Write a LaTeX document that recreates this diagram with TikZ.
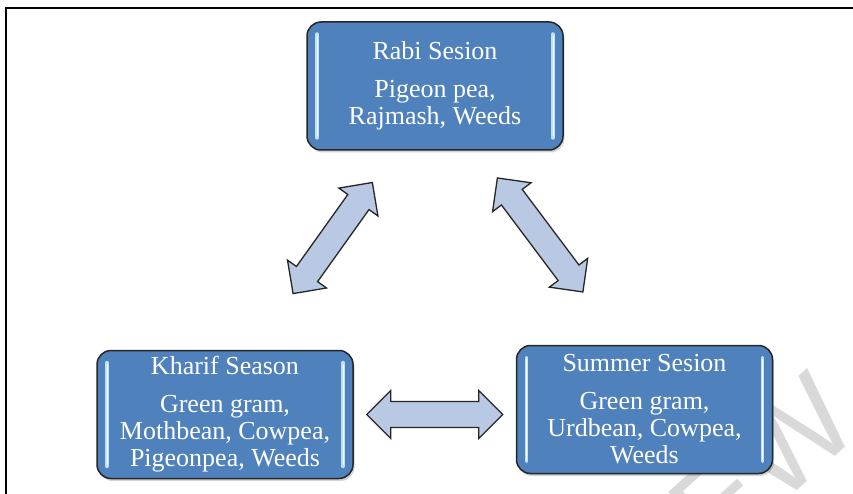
\documentclass[tikz,border=0pt]{standalone}
\usepackage{fontspec}
\setmainfont{Liberation Serif}
\newfontfamily\wmfont{Liberation Sans}
\usepackage{tikz}
\usetikzlibrary{positioning}
\usetikzlibrary{calc, shadows}

\definecolor{boxblue}{RGB}{79,129,189}
\definecolor{arrowblue}{RGB}{185,201,227}
\definecolor{glow}{RGB}{190,225,250}

\begin{document}
\begin{tikzpicture}[x=1pt,y=1pt,
  season node/.style={rounded corners=14pt,draw=black!85,line width=1.5pt,
    fill=boxblue,text=white,align=center,inner sep=2pt,
    minimum width=256pt,minimum height=128pt,
    font=\fontsize{26}{27}\selectfont,
    drop shadow={shadow xshift=1.5pt,shadow yshift=-2.5pt,opacity=0.35},
    path picture={
      \draw[glow,line width=3.5pt,line cap=round]
        ([xshift=10pt,yshift=-12pt]path picture bounding box.north west) --
        ([xshift=10pt,yshift=12pt]path picture bounding box.south west);
      \draw[glow,line width=3.5pt,line cap=round]
        ([xshift=-10pt,yshift=-12pt]path picture bounding box.north east) --
        ([xshift=-10pt,yshift=12pt]path picture bounding box.south east);
      \draw[white,line width=1pt,line cap=round]
        ([xshift=10pt,yshift=-14pt]path picture bounding box.north west) --
        ([xshift=10pt,yshift=14pt]path picture bounding box.south west);
      \draw[white,line width=1pt,line cap=round]
        ([xshift=-10pt,yshift=-14pt]path picture bounding box.north east) --
        ([xshift=-10pt,yshift=14pt]path picture bounding box.south east);}},
  % block arrow with a head at both ends, #1/#2 = gap at start/end
  fat arrow/.style 2 args={draw=black!85,line width=1.3pt,fill=arrowblue,
    line join=miter,
    to path={let \p1=($(\tikztostart)!#1!(\tikztotarget)$),
                 \p2=($(\tikztotarget)!#2!(\tikztostart)$) in
      (\p1) -- ($(\p1)!24pt!(\p2)!24pt!90:(\p2)$)
            -- ($(\p1)!24pt!(\p2)!13pt!90:(\p2)$)
            -- ($(\p2)!24pt!(\p1)!13pt!-90:(\p1)$)
            -- ($(\p2)!24pt!(\p1)!24pt!-90:(\p1)$)
            -- (\p2)
            -- ($(\p2)!24pt!(\p1)!24pt!90:(\p1)$)
            -- ($(\p2)!24pt!(\p1)!13pt!90:(\p1)$)
            -- ($(\p1)!24pt!(\p2)!13pt!-90:(\p2)$)
            -- ($(\p1)!24pt!(\p2)!24pt!-90:(\p2)$) -- cycle}},
  wm/.style={font=\wmfont\fontsize{122}{122}\selectfont,text=black!15,inner sep=0pt}]

  \useasboundingbox (0,0) rectangle (853,-494);
  \draw[line width=1.2pt] (6,-494) -- (6,-8) -- (853,-8);

  % watermark behind the boxes
  \node[wm,rotate=42,anchor=base east] (wmark) at (864,-430) {EW};

  \node[season node] (rabi) at (435,-86)
    {Rabi Sesion\\[11pt]Pigeon pea,\\Rajmash, Weeds};
  \node[season node] (kharif) [below=199pt of rabi, xshift=-210pt]
    {Kharif Season\\[11pt]Green gram,\\Mothbean, Cowpea,\\Pigeonpea, Weeds};
  \node[season node] (summer) [right=162pt of kharif, yshift=5pt]
    {Summer Sesion\\[11pt]Green gram,\\Urdbean, Cowpea,\\Weeds};

  \draw[fat arrow={69pt}{39pt}] ([xshift=28pt]kharif.north) to ([xshift=-40pt]rabi.south);
  \draw[fat arrow={34pt}{66pt}] ([xshift=42pt]rabi.south) to ([xshift=-22pt]summer.north);
  \draw[fat arrow={13pt}{13pt}] (kharif.east) to (kharif.east -| summer.west);
\end{tikzpicture}
\end{document}
